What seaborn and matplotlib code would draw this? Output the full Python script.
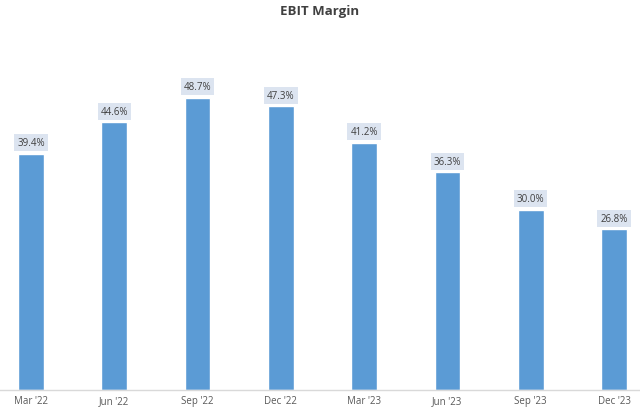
import pandas as pd
import numpy as np
import seaborn as sns
import matplotlib.pyplot as plt

quarters = ["Mar '22", "Jun '22", "Sep '22", "Dec '22", "Mar '23", "Jun '23", "Sep '23", "Dec '23"]
ebit_margin = [39.4, 44.6, 48.7, 47.3, 41.2, 36.3, 30.0, 26.8]

df = pd.DataFrame({'quarter': quarters, 'margin': ebit_margin})

sns.set_style('white')
plt.rcParams['font.family'] = ['Open Sans', 'DejaVu Sans']

fig = plt.figure(figsize=(6.4, 4.1), dpi=100)
ax = fig.add_axes([0, 19 / 410, 1, 360 / 410])

sns.barplot(data=df, x='quarter', y='margin', color='#5B9BD5', width=0.31,
            saturation=1, ax=ax)

ax.set_xlim(-0.372, 7.312)
ax.set_ylim(0, 60)
ax.set_xlabel('')
ax.set_ylabel('')
ax.set_yticks([])
for side in ['top', 'left', 'right']:
    ax.spines[side].set_visible(False)
ax.spines['bottom'].set_color('#d9d9d9')
ax.spines['bottom'].set_linewidth(1)
ax.tick_params(axis='x', length=0, pad=3.5, labelsize=7, labelcolor='#595959')

for i, v in enumerate(ebit_margin):
    ax.annotate(f'{v:.1f}%', (i, v), xytext=(0, 8), textcoords='offset points',
                ha='center', va='center', fontsize=7, color='#404040',
                bbox=dict(boxstyle='square,pad=0.3', fc='#dce4f0', ec='none'))

fig.text(0.5, 1 - 11 / 410, 'EBIT Margin', ha='center', va='center',
         fontsize=9.5, fontweight='bold', color='#404040')

fig.savefig('out.png', dpi=100)
